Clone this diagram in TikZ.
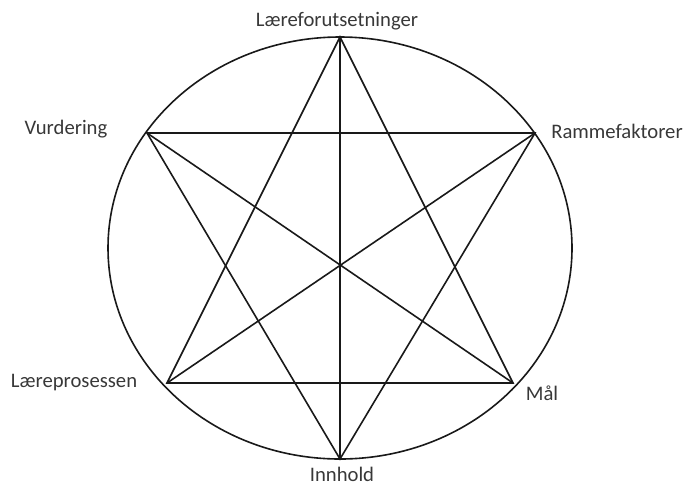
\documentclass[tikz,border=0pt]{standalone}
\usepackage{fontspec}
\setmainfont{Carlito}
\usetikzlibrary{positioning}

\begin{document}
\begin{tikzpicture}[x=0.75pt, y=-0.75pt,
    lbl/.style={font=\fontsize{15.5}{18}\selectfont, text=black!78, inner sep=0pt},
    edge/.style={line width=1.2pt, black!90}
  ]
    \useasboundingbox (0,0) rectangle (688,487);

    \draw[edge] (340,248) ellipse [x radius=232, y radius=211];

    \coordinate (laf) at (340,37);
    \coordinate (ram) at (535,133);
    \coordinate (maal) at (513,383);
    \coordinate (inn) at (340,459);
    \coordinate (lpr) at (167,383);
    \coordinate (vur) at (147,133);

    \node[lbl] (tlaf) at (337,21) {Læreforutsetninger};
    \node[lbl] (tram) at (617,131) {Rammefaktorer};
    \node[lbl] (tmaal) at (542,393) {Mål};
    \node[lbl] (tinn) at (342,474) {Innhold};
    \node[lbl] (tlpr) at (74,383) {Læreprosessen};
    \node[lbl] (tvur) at (66,129) {Vurdering};

    \draw[edge] (laf) -- (lpr) -- (maal) -- cycle;
    \draw[edge] (vur) -- (ram) -- (inn) -- cycle;
    \draw[edge] (laf) -- (inn);
    \draw[edge] (vur) -- (maal);
    \draw[edge] (ram) -- (lpr);
  \end{tikzpicture}
\end{document}
